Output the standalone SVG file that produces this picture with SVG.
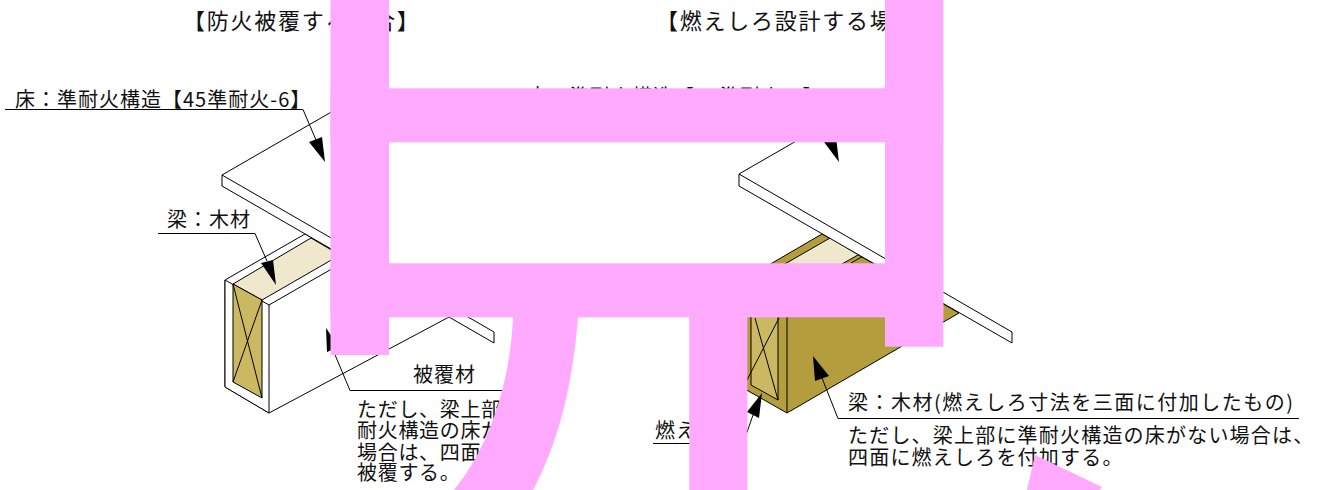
<svg xmlns="http://www.w3.org/2000/svg" width="1319" height="490" viewBox="0 0 1319 490">
<style>
text{font-family:"Noto Sans CJK JP","Liberation Sans",sans-serif;font-size:20px;fill:#111}
.t{font-size:22px;letter-spacing:1.75px}
.a{letter-spacing:1px}
.b{letter-spacing:.7px}
.c{letter-spacing:1.2px}
.f{letter-spacing:1.5px}
.l{fill:none;stroke:#000;stroke-width:1}
.e{stroke:#000;stroke-width:1;stroke-linejoin:miter}
.w{fill:#fff}
.m{fill:#cbb862}
.d{fill:#b39d3c}
.p{fill:#efe8cd}
.ar{fill:#000;stroke:none}
.ld{fill:none;stroke:#000;stroke-width:1}
.pk{fill:#ffa9ff}
</style>
<g id="titles">
<text class="t" x="183" y="29">【防火被覆する場合】</text>
<text class="t" x="656" y="29">【燃えしろ設計する場合】</text>
</g>
<g id="beam-left">
<polygon class="e w" points="225,280 305,234 449,317 269,413 225,387"/>
<polygon class="e w" points="225,280 269,305 269,413 225,387"/>
<polygon class="e p" points="233,284 262,300 340,255 311,238"/>
<polygon class="e m" points="233,284 262,300 262,398 233,382"/>
<path class="l" d="M233,284L262,398M262,300L233,382M269,305L349,259"/>
</g>
<g id="floor-left">
<polygon class="e w" points="222,175 222,186 494,343 494,332"/>
<path class="l" d="M222,175L340,107"/>
</g>
<g id="beam-right">
<polygon class="e d" points="743,280 822,234 959,313 787,413 743,388"/>
<polygon class="p" points="771,272 830,238 858,255 799,288"/>
<path class="l" d="M771,272L830,238M799,288L858,255M851,263L865,255"/>
<polygon class="e m" points="751,287 778,302 778,400 751,385"/>
<path class="l" d="M755,318L778,400M779,318L747,380M787,300V413"/>
</g>
<g id="floor-right">
<polygon class="e w" points="739,174 739,186 1012,343 1012,332"/>
<path class="l" d="M739,174L850,110"/>
</g>
<g id="connectors">
<path class="ld" d="M5,109.500H303L316,140"/>
<polygon class="ar" points="325,162 309,142 322,137"/>
<path class="ld" d="M158,233.500H255L267,261"/>
<polygon class="ar" points="276,285 261,263 273,260"/>
<path class="ld" d="M510,390.500H350L333,350"/>
<polygon class="ar" points="326,328 327,352 339,347"/>
<path class="ld" d="M522,106.500H819L832,140"/>
<polygon class="ar" points="839,162 824,142 836,137"/>
<path class="ld" d="M653,443.500H743L753,415"/>
<polygon class="ar" points="762,393 747,412 759,418"/>
<path class="ld" d="M1299,418.500H838L822,378"/>
<polygon class="ar" points="813,356 815,381 829,376"/>
</g>
<g id="labels">
<text class="a" x="15" y="107">床：準耐火構造【45準耐火-6】</text>
<text class="a" x="527" y="104">床：準耐火構造【45準耐火-6】</text>
<text class="a" x="167" y="227">梁：木材</text>
<text class="a" x="413" y="382">被覆材</text>
<text class="b"><tspan x="357" y="417">ただし、梁上部に準</tspan><tspan x="357" y="438">耐火構造の床がない</tspan><tspan x="357" y="460">場合は、四面を防火</tspan><tspan x="357" y="480">被覆する。</tspan></text>
<text class="a" x="655" y="438">燃えしろ</text>
<text class="f" x="848" y="410">梁：木材(燃えしろ寸法を三面に付加したもの)</text>
<text class="c"><tspan x="848" y="443">ただし、梁上部に準耐火構造の床がない場合は、</tspan><tspan x="848" y="465">四面に燃えしろを付加する。</tspan></text>
</g>
<g id="overlay">
<rect class="pk" x="330.500" y="0" width="58.500" height="355"/>
<rect class="pk" x="885" y="0" width="58.300" height="346.700"/>
<rect class="pk" x="330.500" y="88.300" width="612.800" height="54"/>
<rect class="pk" x="330.500" y="263.300" width="612.800" height="54"/>
<rect class="pk" x="689.300" y="317" width="58" height="173"/>
<path class="pk" d="M513,317C511,370 495,440 454,490L533,490C560,440 573,380 578,317Z"/>
<polygon class="pk" points="1035,455 1102,487 1100,490 1027,490"/>
</g>
</svg>
